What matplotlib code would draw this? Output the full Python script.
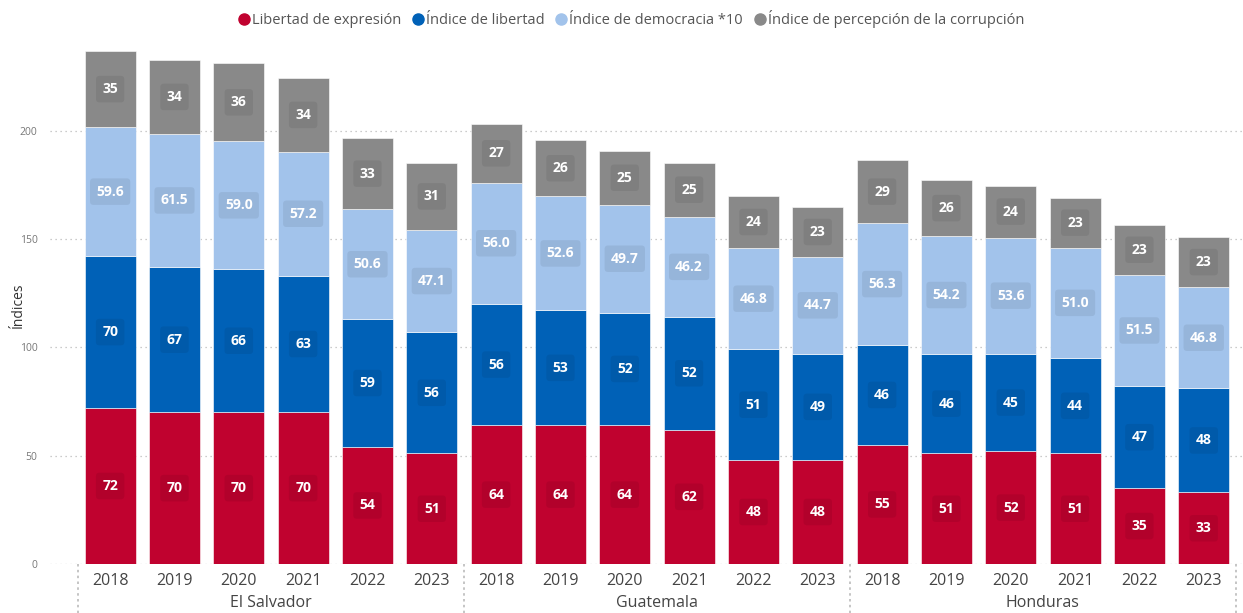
import matplotlib.pyplot as plt
import matplotlib.transforms as mtransforms
import numpy as np

plt.rcParams['font.family'] = ['Open Sans', 'DejaVu Sans']

# Data
countries = ['El Salvador', 'Guatemala', 'Honduras']
years = ['2018', '2019', '2020', '2021', '2022', '2023']

libertad_expresion = [72, 70, 70, 70, 54, 51,
                      64, 64, 64, 62, 48, 48,
                      55, 51, 52, 51, 35, 33]
indice_libertad = [70, 67, 66, 63, 59, 56,
                   56, 53, 52, 52, 51, 49,
                   46, 46, 45, 44, 47, 48]
indice_democracia = [59.6, 61.5, 59.0, 57.2, 50.6, 47.1,
                     56.0, 52.6, 49.7, 46.2, 46.8, 44.7,
                     56.3, 54.2, 53.6, 51.0, 51.5, 46.8]
indice_corrupcion = [35, 34, 36, 34, 33, 31,
                     27, 26, 25, 25, 24, 23,
                     29, 26, 24, 23, 23, 23]

series = [
    ('Libertad de expresión', libertad_expresion, '#C0022F', '{:.0f}'),
    ('Índice de libertad', indice_libertad, '#0061B7', '{:.0f}'),
    ('Índice de democracia *10', indice_democracia, '#A2C3EB', '{:.1f}'),
    ('Índice de percepción de la corrupción', indice_corrupcion, '#898989', '{:.0f}'),
]

fig = plt.figure(figsize=(12.43, 6.13), dpi=100)
ax = fig.add_axes([50/1243, 49/613, 1193/1243, 531/613])

n = len(countries) * len(years)
x = np.arange(n)
bottom = np.zeros(n)

for name, vals, color, fmt in series:
    vals = np.array(vals, dtype=float)
    ax.bar(x, vals, 0.79, bottom=bottom, color=color, label=name,
           edgecolor='white', linewidth=0.4, zorder=2)
    for xi, b, v in zip(x, bottom, vals):
        ax.text(xi, b + v / 2, fmt.format(v), ha='center', va='center',
                color='white', fontsize=10, fontweight='bold', zorder=3,
                bbox=dict(boxstyle='round,pad=0.45,rounding_size=0.25',
                          facecolor=(0, 0, 0, 0.07), edgecolor='none'))
    bottom += vals

ax.set_xlim(-0.935, 17.61)
ax.set_ylim(0, 245)
ax.set_yticks([0, 50, 100, 150, 200])
ax.tick_params(axis='y', length=0, labelsize=7.5, labelcolor='#777777', pad=9)
ax.set_xticks([])
ax.grid(axis='y', linestyle=(0, (1, 3)), color='#BBBBBB', linewidth=0.9, zorder=0)
for s in ax.spines.values():
    s.set_visible(False)

fig.text(18/1243, 1 - 305/613, 'Índices', rotation=90, ha='center',
         va='center', fontsize=10, color='#333333')

# Year and country labels
trans = mtransforms.blended_transform_factory(ax.transData, ax.transAxes)
for i in range(n):
    ax.text(i, -0.032, years[i % len(years)], transform=trans, ha='center',
            va='center', fontsize=11.5, color='#444444')
for j, c in enumerate(countries):
    ax.text(j * 6 + 2.5, -0.074, c, transform=trans, ha='center',
            va='center', fontsize=11.5, color='#444444')
for sep in [-0.5, 5.5, 11.5, 17.5]:
    ax.plot([sep, sep], [0, -0.095], transform=trans, clip_on=False,
            color='#BBBBBB', linestyle=(0, (1.5, 2)), linewidth=1.2)

# Legend with circle markers
handles = [plt.Line2D([], [], marker='o', linestyle='', color=c, markersize=8)
           for _, _, c, _ in series]
fig.legend(handles, [s[0] for s in series], loc='upper center',
           bbox_to_anchor=(0.508, 1.005), ncol=4, frameon=False, fontsize=10.5,
           handlelength=0.7, handletextpad=0.2, columnspacing=0.8,
           labelcolor='#555555')

fig.savefig('out.png', dpi=100)
